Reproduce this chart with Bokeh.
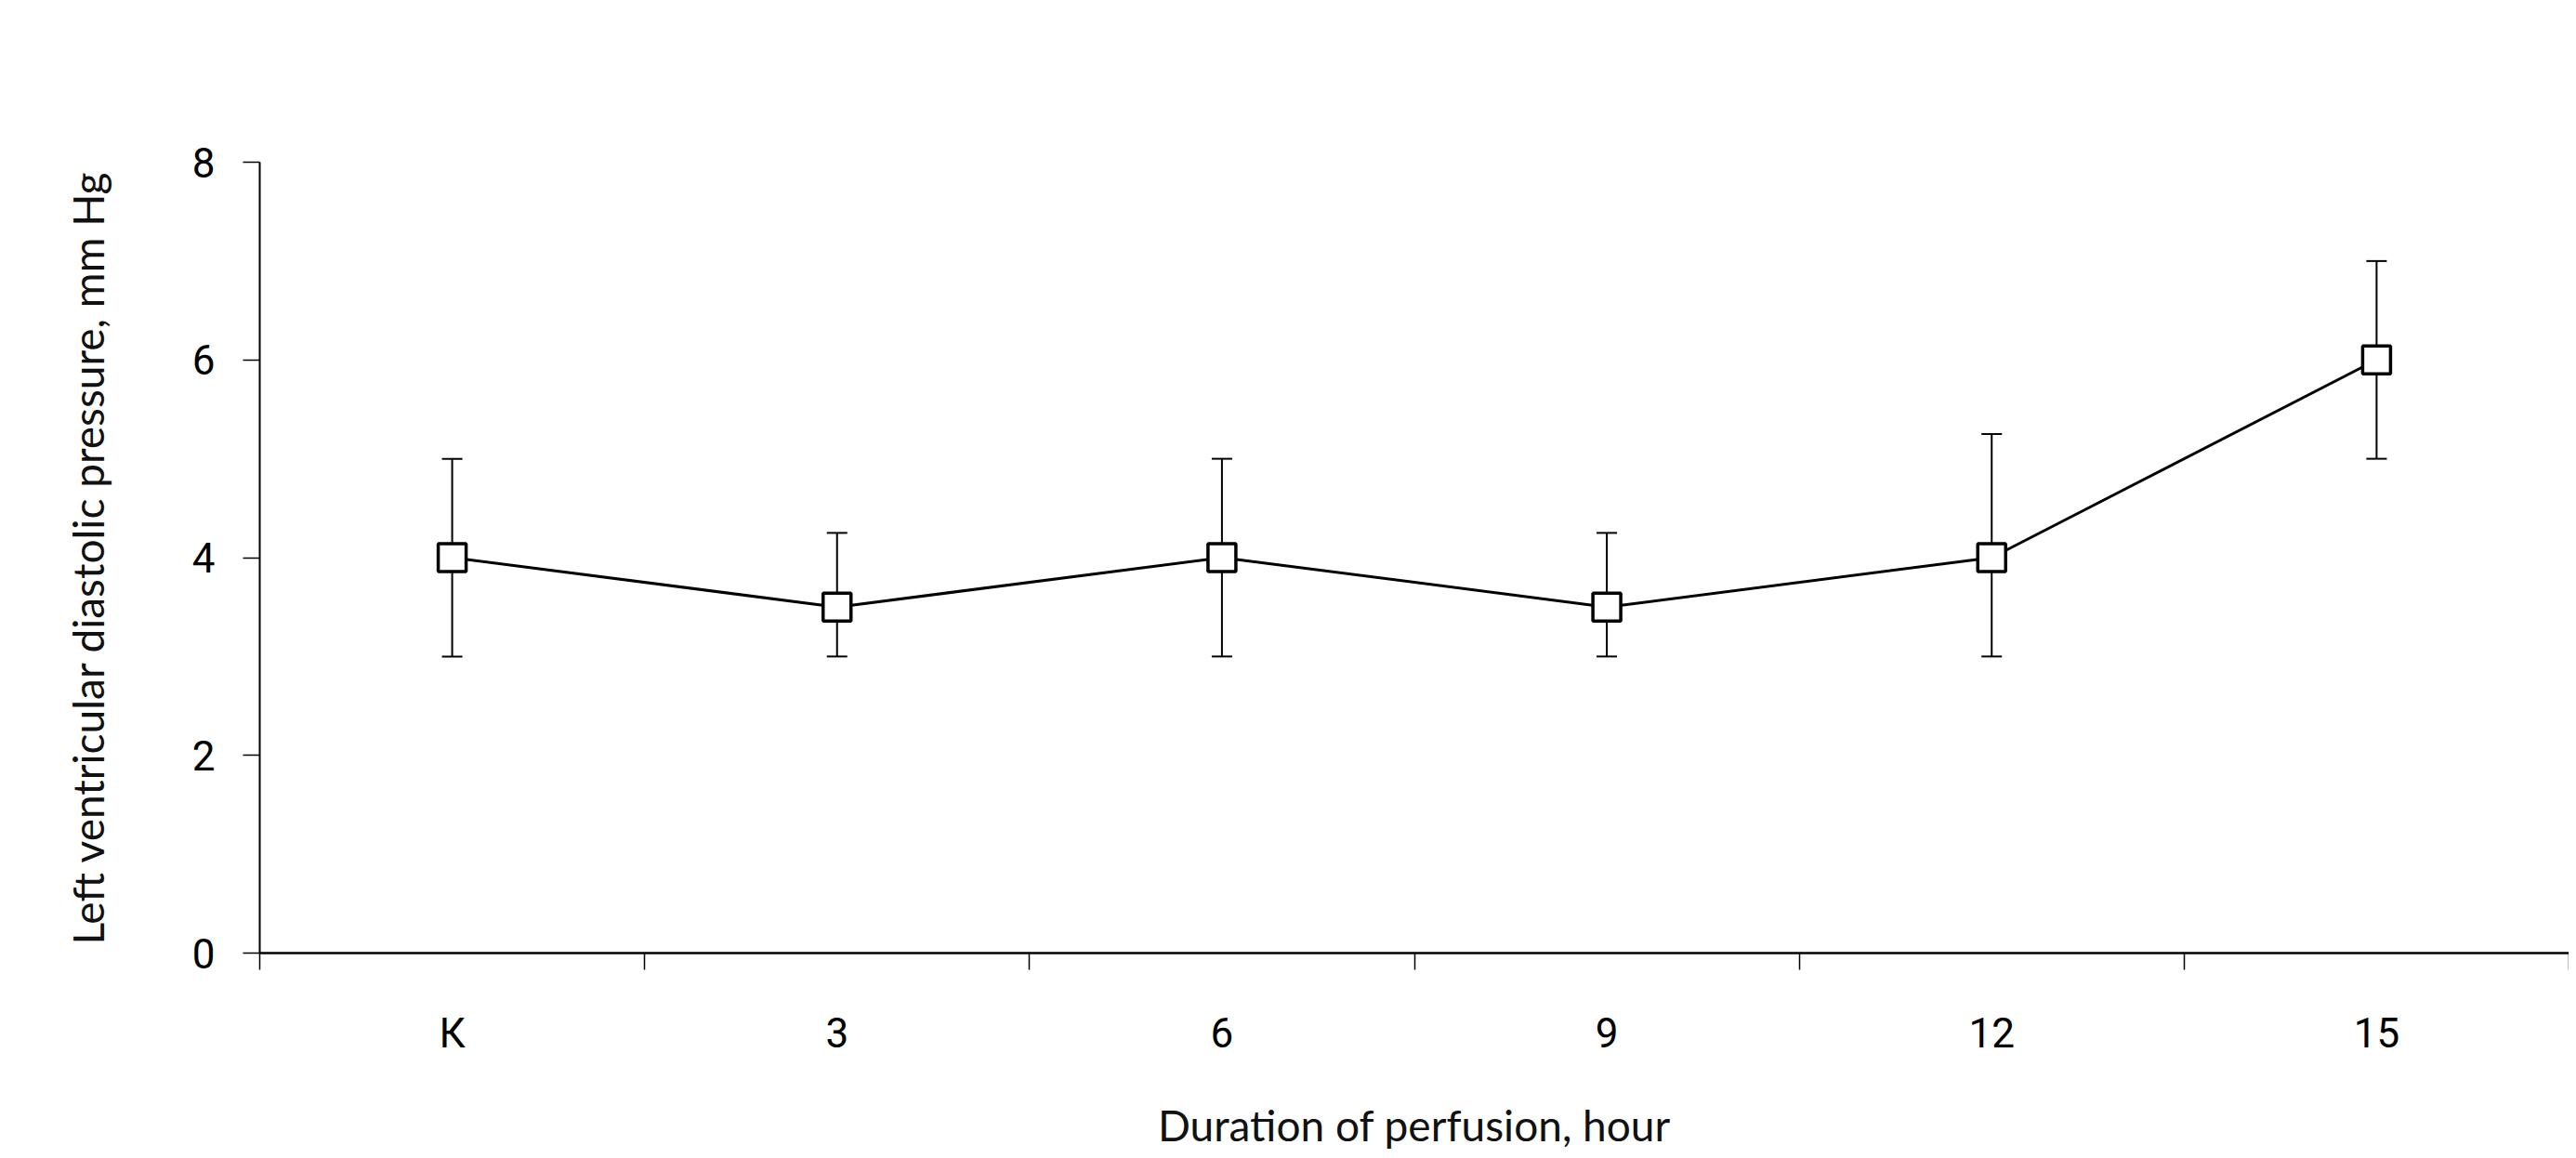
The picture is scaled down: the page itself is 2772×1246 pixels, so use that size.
from bokeh.plotting import figure
from bokeh.models import ColumnDataSource, Whisker, TeeHead, FixedTicker
from bokeh.embed import file_html
from bokeh.resources import INLINE

categories = ["К", "3", "6", "9", "12", "15"]
mean_values = [4.0, 3.5, 4.0, 3.5, 4.0, 6.0]
lower_values = [3.0, 3.0, 3.0, 3.0, 3.0, 5.0]
upper_values = [5.0, 4.25, 5.0, 4.25, 5.25, 7.0]
y_ticks = [0, 2, 4, 6, 8]

TICK_FONT = "Roboto"
LABEL_FONT = "Lato"

xs = [i + 0.5 for i in range(len(categories))]
src = ColumnDataSource(dict(x=xs, y=mean_values, lo=lower_values, hi=upper_values))

p = figure(width=2764, height=1240, output_backend="svg", toolbar_location=None,
           x_range=(0, len(categories)), y_range=(0, 8),
           min_border_left=279, min_border_right=0, min_border_top=174, min_border_bottom=213)
p.grid.visible = False
p.outline_line_color = None
p.background_fill_color = "white"

wh = Whisker(source=src, base="x", lower="lo", upper="hi",
             line_color="black", line_width=2,
             lower_head=TeeHead(size=22, line_color="black", line_width=2),
             upper_head=TeeHead(size=22, line_color="black", line_width=2))
p.add_layout(wh)

p.line("x", "y", source=src, line_color="black", line_width=3)
p.scatter("x", "y", source=src, marker="square", size=30, fill_color="white",
          line_color="black", line_width=3.5)

# x axis
p.xaxis.ticker = FixedTicker(ticks=xs, minor_ticks=list(range(len(categories) + 1)))
p.xaxis.major_label_overrides = {x: c for x, c in zip(xs, categories)}
p.xaxis.major_tick_out = 0
p.xaxis.major_tick_in = 0
p.xaxis.minor_tick_out = 18
p.xaxis.minor_tick_in = 0
p.xaxis.minor_tick_line_color = "black"
p.xaxis.minor_tick_line_width = 1.5
p.xaxis.axis_line_width = 2.5
p.xaxis.axis_line_color = "black"
p.xaxis.major_label_standoff = 42
p.xaxis.axis_label = "Duration of perfusion, hour"
p.xaxis.axis_label_standoff = 42

# y axis
p.yaxis.ticker = FixedTicker(ticks=y_ticks)
p.yaxis.major_tick_out = 18
p.yaxis.major_tick_in = 0
p.yaxis.major_tick_line_width = 1.5
p.yaxis.major_tick_line_color = "black"
p.yaxis.minor_tick_line_color = None
p.yaxis.axis_line_width = 2
p.yaxis.axis_line_color = "black"
p.yaxis.major_label_standoff = 30
p.yaxis.axis_label = "Left ventricular diastolic pressure, mm Hg"
p.yaxis.axis_label_standoff = 82

for ax in (p.xaxis, p.yaxis):
    ax.major_label_text_font = TICK_FONT
    ax.major_label_text_font_size = "44px"
    ax.major_label_text_color = "black"
    ax.axis_label_text_font = LABEL_FONT
    ax.axis_label_text_font_size = "46px"
    ax.axis_label_text_font_style = "normal"
    ax.axis_label_text_color = "#111111"

open("out.html", "w").write(file_html(p, INLINE))
